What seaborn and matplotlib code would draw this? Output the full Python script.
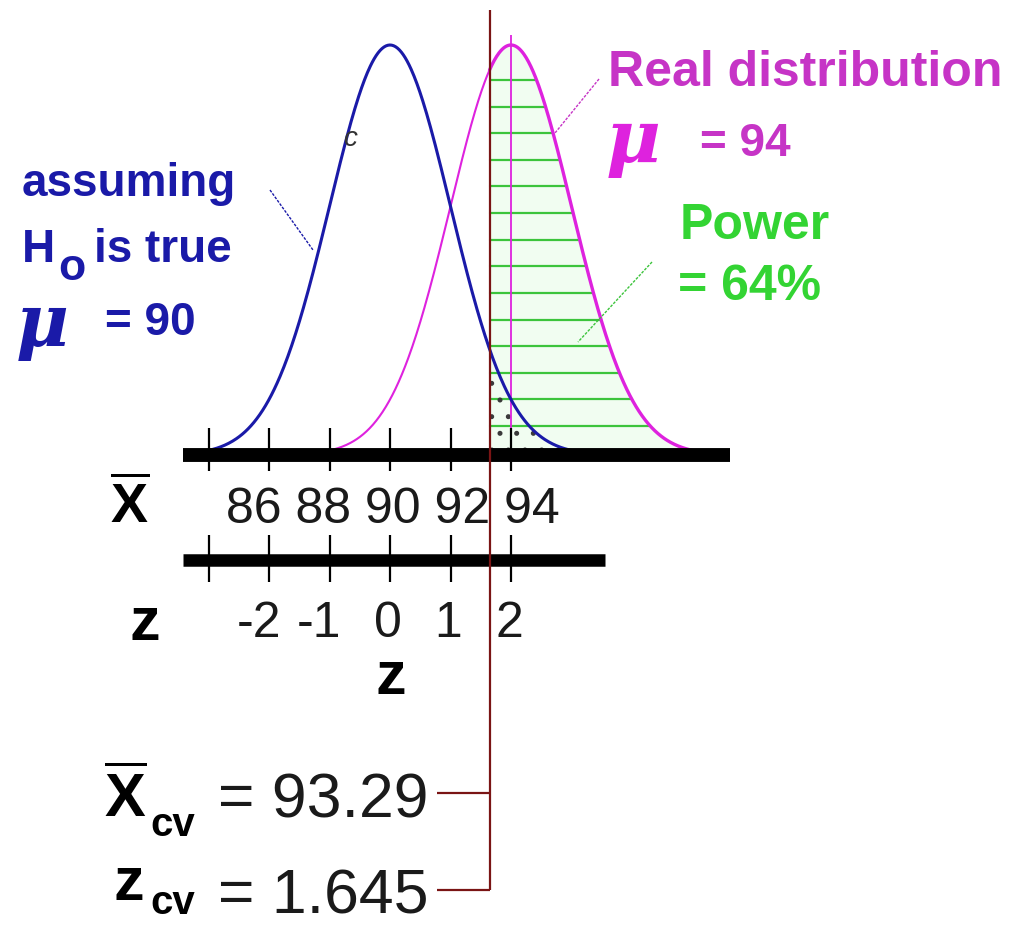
import numpy as np
import pandas as pd
import matplotlib
matplotlib.use("Agg")
import matplotlib.pyplot as plt
import seaborn as sns

# ---------------- values ----------------
mu_null = 90            # population mean assumed under H0
mu_real = 94            # actual population mean
std_error = 2           # standard error of the sample mean
z_cv = 1.645            # one-sided critical z
xbar_cv = 93.29         # critical sample mean
power_pct = 64          # power of the test (%)

xbar_ticks = [84, 86, 88, 90, 92, 94]
xbar_tick_labels = ["86", "88", "90", "92", "94"]
z_ticks = [-3, -2, -1, 0, 1, 2]
z_tick_labels = ["", "-2", "-1", "0", "1", "2"]

# ---------------- canvas ----------------
W, H = 1010, 927
PX_PER_UNIT = 30.25      # horizontal pixels per unit of x-bar
X0_PX = 390              # pixel column of mu_null
BASE_PX = 455            # pixel row of the density baseline
PEAK_PX = 45             # pixel row of the curve peaks

def pdf(x, mu):
    return np.exp(-0.5 * ((x - mu) / std_error) ** 2) / (std_error * np.sqrt(2 * np.pi))

peak = pdf(mu_null, mu_null)
y_scale = (BASE_PX - PEAK_PX) / peak

def xd(px):
    return mu_null + (px - X0_PX) / PX_PER_UNIT

def yd(py):
    return (BASE_PX - py) / y_scale

def fx(px):
    return px / W

def fy(py):
    return 1 - py / H

sns.set_theme(style="white")
plt.rcParams["font.family"] = ["Liberation Sans", "DejaVu Sans"]
plt.rcParams["mathtext.fontset"] = "custom"
plt.rcParams["mathtext.bf"] = "Liberation Sans:bold"
plt.rcParams["mathtext.rm"] = "Liberation Sans"
plt.rcParams["hatch.linewidth"] = 1.2

BLUE = "#1a1aa8"
MAGENTA = "#de22de"
MAGENTA_TXT = "#c634c6"
GREEN = "#3cc43c"
GREEN_TXT = "#33d433"
DARKRED = "#7a1414"

fig = plt.figure(figsize=(W / 100, H / 100), dpi=100)
fig.patch.set_facecolor("white")
ax = fig.add_axes([0, 0, 1, 1])
ax.set_xlim(xd(0), xd(W))
ax.set_ylim(yd(H), yd(0))
ax.axis("off")

# ---------------- curves ----------------
xs_null = np.linspace(mu_null - 3.1 * std_error, mu_null + 3.3 * std_error, 400)
xs_real_left = np.linspace(mu_real - 3.0 * std_error, xbar_cv, 200)
xs_real_right = np.linspace(xbar_cv, mu_real + 3.5 * std_error, 300)

null_df = pd.DataFrame({"x": xs_null, "density": pdf(xs_null, mu_null)})
real_left_df = pd.DataFrame({"x": xs_real_left, "density": pdf(xs_real_left, mu_real)})
real_right_df = pd.DataFrame({"x": xs_real_right, "density": pdf(xs_real_right, mu_real)})

# power region: light tint + horizontal hatch lines
ax.fill_between(xs_real_right, 0, pdf(xs_real_right, mu_real), color="#f1fdf1", lw=0, zorder=0)
levels = np.linspace(yd(426), yd(80), 14)
for h in levels:
    reach = mu_real + std_error * np.sqrt(-2 * np.log(h * std_error * np.sqrt(2 * np.pi)))
    ax.plot([xbar_cv, reach], [h, h], color=GREEN, lw=1.6, zorder=1)

# alpha region: dotted
xs_tail = np.linspace(xbar_cv, mu_null + 3.3 * std_error, 100)
ax.fill_between(xs_tail, 0, pdf(xs_tail, mu_null), facecolor="none",
                edgecolor="#3a3a3a", hatch=".", lw=0, zorder=1)

sns.lineplot(data=real_left_df, x="x", y="density", ax=ax, color=MAGENTA, lw=1.5,
             sort=False, estimator=None, zorder=3)
sns.lineplot(data=real_right_df, x="x", y="density", ax=ax, color=MAGENTA, lw=2.4,
             sort=False, estimator=None, zorder=3)
sns.lineplot(data=null_df, x="x", y="density", ax=ax, color=BLUE, lw=2.2,
             sort=False, estimator=None, zorder=4)

# mean marker of the real distribution
ax.vlines(mu_real, 0, peak + yd(35) - yd(45), color=MAGENTA, lw=1.3, zorder=3)

# ---------------- axes ----------------
ax.plot([xd(183), xd(730)], [0, 0], color="black", lw=10, solid_capstyle="butt", zorder=5)
ax.vlines(xbar_ticks, yd(471), yd(428), color="black", lw=1.6, zorder=5)

y_zaxis = yd(560)
ax.plot([xd(183), xd(605)], [y_zaxis, y_zaxis], color="black", lw=9, solid_capstyle="butt", zorder=5)
z_pos = [mu_null + z * std_error for z in z_ticks]
ax.vlines(z_pos, yd(582), yd(535), color="black", lw=1.6, zorder=5)

fig.text(fx(226), fy(523), " ".join(xbar_tick_labels),
         fontsize=36, color="#1a1a1a", ha="left", va="baseline")
for zp, lab in zip(z_pos, z_tick_labels):
    if lab:
        ax.text(zp + 12 / PX_PER_UNIT, yd(637), lab, fontsize=36, color="#1a1a1a",
                ha="right", va="baseline")

fig.text(fx(110), fy(523), r"$\overline{\mathbf{X}}$", fontsize=40, color="black",
         ha="left", va="baseline")
fig.text(fx(130), fy(640), "z", fontsize=44, fontweight="bold", color="black",
         ha="left", va="baseline")
fig.text(fx(376), fy(694), "z", fontsize=44, fontweight="bold", color="black",
         ha="left", va="baseline")

# ---------------- critical value ----------------
ax.vlines(xbar_cv, yd(890), yd(10), color=DARKRED, lw=1.6, zorder=6)
ax.hlines([yd(793), yd(890)], xd(437), xbar_cv, color=DARKRED, lw=1.6, zorder=6)

fig.text(fx(104), fy(817), r"$\overline{\mathbf{X}}$", fontsize=44, color="black",
         ha="left", va="baseline")
fig.text(fx(150), fy(836), "cv", fontsize=29, fontweight="bold", color="black",
         ha="left", va="baseline")
fig.text(fx(218), fy(818), f"= {xbar_cv:.2f}", fontsize=45, color="#1a1a1a",
         ha="left", va="baseline")

fig.text(fx(114), fy(900), "z", fontsize=44, fontweight="bold", color="black",
         ha="left", va="baseline")
fig.text(fx(150), fy(914), "cv", fontsize=29, fontweight="bold", color="black",
         ha="left", va="baseline")
fig.text(fx(218), fy(914), f"= {z_cv:.3f}", fontsize=45, color="#1a1a1a",
         ha="left", va="baseline")

# ---------------- annotations ----------------
fig.text(fx(22), fy(196), "assuming", fontsize=33, fontweight="bold", color=BLUE,
         ha="left", va="baseline")
fig.text(fx(22), fy(262), "H", fontsize=33, fontweight="bold", color=BLUE,
         ha="left", va="baseline")
fig.text(fx(58), fy(280), "o", fontsize=32, fontweight="bold", color=BLUE,
         ha="left", va="baseline")
fig.text(fx(94), fy(262), "is true", fontsize=33, fontweight="bold", color=BLUE,
         ha="left", va="baseline")
fig.text(fx(16), fy(346), "μ", fontsize=52, fontweight="bold", style="italic",
         family="DejaVu Serif", color=BLUE, ha="left", va="baseline")
fig.text(fx(105), fy(335), f"= {mu_null}", fontsize=33, fontweight="bold", color=BLUE,
         ha="left", va="baseline")
ax.plot([xd(270), xd(313)], [yd(190), yd(250)], color=BLUE, lw=1.0, ls=(0, (2, 1)), zorder=4)
fig.text(fx(343), fy(146), "c", fontsize=20, style="italic", color="#333333",
         ha="left", va="baseline")

fig.text(fx(608), fy(86), "Real distribution", fontsize=36, fontweight="bold",
         color=MAGENTA_TXT, ha="left", va="baseline")
fig.text(fx(606), fy(162), "μ", fontsize=54, fontweight="bold", style="italic",
         family="DejaVu Serif", color=MAGENTA, ha="left", va="baseline")
fig.text(fx(700), fy(156), f"= {mu_real}", fontsize=33, fontweight="bold",
         color=MAGENTA_TXT, ha="left", va="baseline")
ax.plot([xd(599), xd(555)], [yd(79), yd(133)], color=MAGENTA_TXT, lw=1.0,
        ls=(0, (2, 1)), zorder=4)

fig.text(fx(680), fy(239), "Power", fontsize=36, fontweight="bold", color=GREEN_TXT,
         ha="left", va="baseline")
fig.text(fx(678), fy(300), f"= {power_pct}%", fontsize=36, fontweight="bold",
         color=GREEN_TXT, ha="left", va="baseline")
ax.plot([xd(652), xd(578)], [yd(262), yd(342)], color=GREEN, lw=1.0, ls=(0, (2, 1)), zorder=4)

fig.savefig("out.png", dpi=100, facecolor="white")
